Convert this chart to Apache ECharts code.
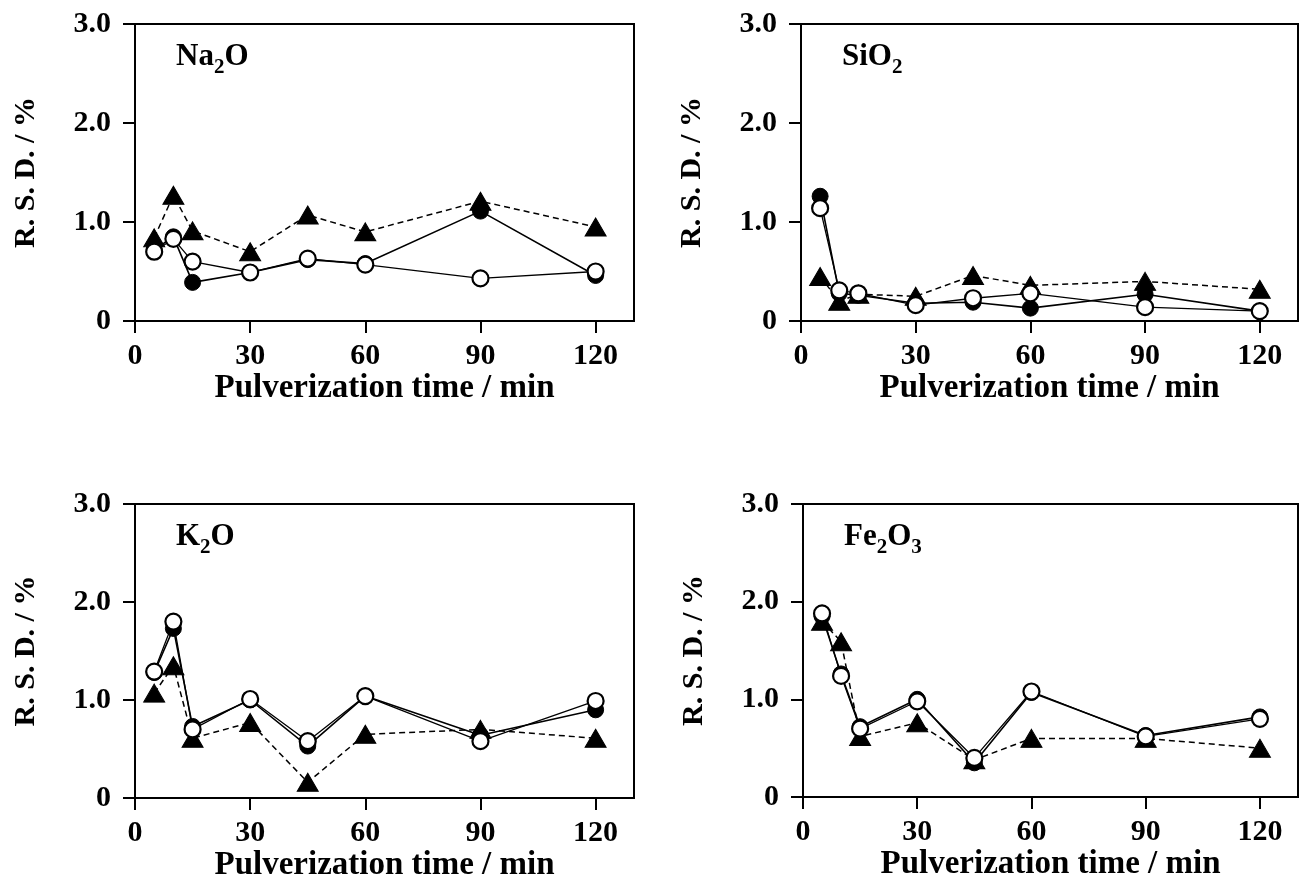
<!DOCTYPE html>
<html>
<head>
<meta charset="utf-8">
<script src="https://cdn.jsdelivr.net/npm/echarts@6/dist/echarts.min.js"></script>
<style>
  html, body { margin: 0; padding: 0; background: #fff; }
  #chart { width: 1306px; height: 895px; }
</style>
</head>
<body>
<div id="chart"></div>
<script>
// pulverization time (min)
var times = [5, 10, 15, 30, 45, 60, 90, 120];
var xTicks = [0, 30, 60, 90, 120];
var yTicks = [0, 1, 2, 3];

// R.S.D. values, one array per marker type
var na2oFilled = [0.72, 0.85, 0.39, 0.49, 0.62, 0.58, 1.11, 0.46];
var na2oOpen   = [0.70, 0.83, 0.60, 0.49, 0.63, 0.57, 0.43, 0.50];
var na2oTri    = [0.84, 1.27, 0.91, 0.70, 1.07, 0.90, 1.21, 0.95];

var sio2Filled = [1.26, 0.28, 0.26, 0.18, 0.19, 0.13, 0.27, 0.10];
var sio2Open   = [1.14, 0.31, 0.28, 0.16, 0.23, 0.28, 0.14, 0.10];
var sio2Tri    = [0.45, 0.20, 0.27, 0.25, 0.46, 0.36, 0.40, 0.32];

var k2oFilled = [1.28, 1.73, 0.73, 1.00, 0.53, 1.04, 0.64, 0.90];
var k2oOpen   = [1.29, 1.80, 0.70, 1.01, 0.58, 1.04, 0.58, 0.99];
var k2oTri    = [1.07, 1.35, 0.61, 0.77, 0.16, 0.65, 0.70, 0.61];

var fe2o3Filled = [1.85, 1.26, 0.72, 1.00, 0.35, 1.07, 0.63, 0.82];
var fe2o3Open   = [1.88, 1.24, 0.70, 0.98, 0.40, 1.08, 0.62, 0.80];
var fe2o3Tri    = [1.80, 1.59, 0.62, 0.76, 0.38, 0.60, 0.60, 0.50];

var panels = [
  { name: ['Na', '2', 'O'], filled: na2oFilled, open: na2oOpen, tri: na2oTri },
  { name: ['SiO', '2', ''], filled: sio2Filled, open: sio2Open, tri: sio2Tri },
  { name: ['K', '2', 'O'], filled: k2oFilled, open: k2oOpen, tri: k2oTri },
  { name: ['Fe', '2', 'O', '3'], filled: fe2o3Filled, open: fe2o3Open, tri: fe2o3Tri }
];

var grids = [
  { left: 135, top: 24, width: 499, height: 297 },
  { left: 801, top: 24, width: 497, height: 297 },
  { left: 135, top: 504, width: 499, height: 294 },
  { left: 803, top: 504, width: 495, height: 293 }
];

var font = '"Liberation Serif", "Times New Roman", serif';

function pairs(arr) {
  return times.map(function (t, i) { return [t, arr[i]]; });
}

var option = {
  backgroundColor: '#fff',
  animation: false,
  title: [],
  grid: [],
  xAxis: [],
  yAxis: [],
  series: []
};

grids.forEach(function (g, i) {
  option.grid.push({
    left: g.left, top: g.top, width: g.width, height: g.height,
    show: true, borderColor: '#000', borderWidth: 2, backgroundColor: 'transparent'
  });
  option.xAxis.push({
    gridIndex: i, type: 'value', min: 0, max: 130,
    name: 'Pulverization time / min', nameLocation: 'middle', nameGap: 42,
    nameTextStyle: { fontFamily: font, fontWeight: 'bold', fontSize: 33, color: '#000' },
    axisLine: { onZero: false, lineStyle: { color: '#000', width: 2 } },
    axisTick: { length: 12, customValues: xTicks, lineStyle: { color: '#000', width: 2 } },
    axisLabel: {
      margin: 20, customValues: xTicks,
      fontFamily: font, fontWeight: 'bold', fontSize: 30, color: '#000'
    },
    splitLine: { show: false }
  });
  option.yAxis.push({
    gridIndex: i, type: 'value', min: 0, max: 3, interval: 1,
    name: 'R. S. D. / %', nameLocation: 'middle', nameGap: 94,
    nameTextStyle: { fontFamily: font, fontWeight: 'bold', fontSize: 30, color: '#000' },
    axisLine: { onZero: false, lineStyle: { color: '#000', width: 2 } },
    axisTick: { length: 12, customValues: yTicks, lineStyle: { color: '#000', width: 2 } },
    axisLabel: {
      margin: 24, customValues: yTicks,
      fontFamily: font, fontWeight: 'bold', fontSize: 30, color: '#000',
      formatter: function (v) { return v === 0 ? '0' : v.toFixed(1); }
    },
    splitLine: { show: false }
  });

  var p = panels[i];
  var txt = '{a|' + p.name[0] + '}{s|' + p.name[1] + '}' +
    (p.name[2] ? '{a|' + p.name[2] + '}' : '') +
    (p.name[3] ? '{s|' + p.name[3] + '}' : '');
  option.title.push({
    text: txt,
    left: g.left + 36, top: g.top + 11,
    textStyle: {
      rich: {
        a: { fontFamily: font, fontWeight: 'bold', fontSize: 31, color: '#000', verticalAlign: 'bottom', lineHeight: 32 },
        s: { fontFamily: font, fontWeight: 'bold', fontSize: 21, color: '#000', verticalAlign: 'bottom', lineHeight: 32, padding: [0, 0, -6, 0] }
      }
    }
  });

  option.series.push({
    type: 'line', xAxisIndex: i, yAxisIndex: i, z: 2,
    data: pairs(p.filled), symbol: 'circle', symbolSize: 16,
    lineStyle: { color: '#000', width: 1.6 },
    itemStyle: { color: '#000', borderColor: '#000', borderWidth: 1 }
  });
  option.series.push({
    type: 'line', xAxisIndex: i, yAxisIndex: i, z: 3,
    data: pairs(p.tri), symbol: 'triangle', symbolSize: [21, 18],
    lineStyle: { color: '#000', width: 1.5, type: [6, 4] },
    itemStyle: { color: '#000', borderColor: '#000', borderWidth: 1 }
  });
  option.series.push({
    type: 'line', xAxisIndex: i, yAxisIndex: i, z: 4,
    data: pairs(p.open), symbol: 'circle', symbolSize: 16,
    lineStyle: { color: '#000', width: 1.3 },
    itemStyle: { color: '#fff', borderColor: '#000', borderWidth: 2.2 }
  });
});

var chart = echarts.init(document.getElementById('chart'));
chart.setOption(option);
</script>
</body>
</html>
